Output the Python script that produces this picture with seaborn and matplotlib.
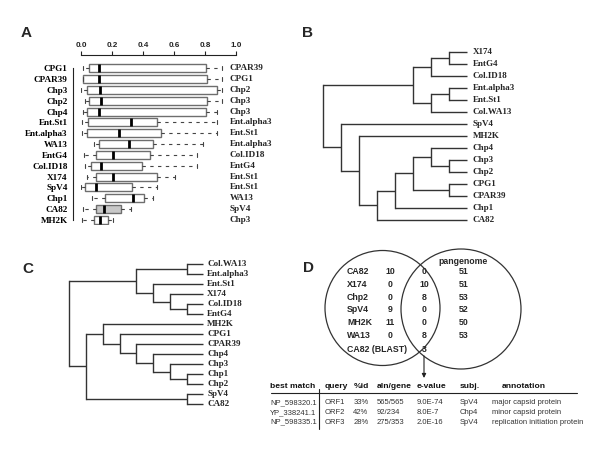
import numpy as np
import pandas as pd
import matplotlib
matplotlib.use("Agg")
import matplotlib.pyplot as plt
from matplotlib.patches import Circle
import seaborn as sns

# ---------------- data ----------------
# Panel A : box summaries (min, q1, median, q3, max) per genome
a_left_labels = ['CPG1', 'CPAR39', 'Chp3', 'Chp2', 'Chp4', 'Ent.St1', 'Ent.alpha3', 'WA13',
                 'EntG4', 'Col.ID18', 'X174', 'SpV4', 'Chp1', 'CA82', 'MH2K']
a_right_labels = ['CPAR39', 'CPG1', 'Chp2', 'Chp3', 'Chp3', 'Ent.alpha3', 'Ent.St1', 'Ent.alpha3',
                  'Col.ID18', 'EntG4', 'Ent.St1', 'Ent.St1', 'WA13', 'SpV4', 'Chp3']
a_min = [0.010, 0.010, 0.000, 0.024, 0.010, 0.004, 0.004, 0.084, 0.022, 0.026, 0.037, 0.000, 0.069, 0.015, 0.009]
a_q1 = [0.054, 0.015, 0.037, 0.050, 0.040, 0.043, 0.037, 0.114, 0.099, 0.067, 0.095, 0.024, 0.157, 0.095, 0.084]
a_med = [0.114, 0.117, 0.123, 0.127, 0.117, 0.323, 0.243, 0.312, 0.204, 0.127, 0.209, 0.095, 0.333, 0.148, 0.123]
a_q3 = [0.806, 0.815, 0.877, 0.815, 0.806, 0.492, 0.518, 0.462, 0.445, 0.396, 0.490, 0.327, 0.406, 0.256, 0.176]
a_max = [0.907, 0.907, 0.907, 0.907, 0.875, 0.875, 0.875, 0.785, 0.746, 0.746, 0.606, 0.492, 0.467, 0.320, 0.209]
a_highlight = 'CA82'
a_ticks = [0.0, 0.2, 0.4, 0.6, 0.8, 1.0]

# Panel B / C : tree topologies (nested tuples)
tree_b = (((('X174', 'EntG4'), 'Col.ID18'), (('Ent.alpha3', 'Ent.St1'), 'Col.WA13')),
          ('SpV4', ('MH2K', (((('Chp4', ('Chp3', 'Chp2')), ('CPG1', 'CPAR39')), 'Chp1'), 'CA82'))))
tree_c = ((('Col.WA13', 'Ent.alpha3'), ('Ent.St1', ('X174', ('Col.ID18', 'EntG4')))),
          (('MH2K', ('CPG1', ('CPAR39', ('Chp4', ('Chp3', ('Chp1', 'Chp2')))))), ('SpV4', 'CA82')))

# Panel D : Venn counts
d_names = ['CA82', 'X174', 'Chp2', 'SpV4', 'MH2K', 'WA13']
d_unique = [10, 0, 0, 9, 11, 0]
d_shared = [0, 10, 8, 0, 0, 8]
d_pangenome = [51, 51, 53, 52, 50, 53]
d_blast_label = 'CA82 (BLAST)'
d_blast_count = 3

# Panel D : BLAST table
t_header = ['best match', 'query', '%id', 'aln/gene', 'e-value', 'subj.', 'annotation']
t_match = ['NP_598320.1', 'YP_338241.1', 'NP_598335.1']
t_query = ['ORF1', 'ORF2', 'ORF3']
t_id = ['33%', '42%', '28%']
t_aln = ['565/565', '92/234', '275/353']
t_eval = ['9.0E-74', '8.0E-7', '2.0E-16']
t_subj = ['SpV4', 'Chp4', 'SpV4']
t_annot = ['major capsid protein', 'minor capsid protein', 'replication initiation protein']

# ---------------- style ----------------
sns.set_style("white")
plt.rcParams['font.family'] = ['Liberation Sans', 'DejaVu Sans']
SERIF = ['Liberation Serif', 'DejaVu Serif']
W, H = 600, 450
fig = plt.figure(figsize=(6, 4.5), dpi=100)
fig.patch.set_facecolor('white')


def px_axes(l, t, r, b):
    return fig.add_axes([l / W, 1 - b / H, (r - l) / W, (b - t) / H])


# ---------------- Panel A ----------------
rows = []
for g, mn, q1, md, q3, mx in zip(a_left_labels, a_min, a_q1, a_med, a_q3, a_max):
    for v in (mn, q1, md, q3, mx):
        rows.append({'genome': g, 'value': v})
df_a = pd.DataFrame(rows)
palette = {g: ('#c8c8c8' if g == a_highlight else 'white') for g in a_left_labels}

axA = px_axes(81, 55, 236, 225.4)
sns.boxplot(data=df_a, x='value', y='genome', hue='genome', order=a_left_labels,
            hue_order=a_left_labels, palette=palette, saturation=1, legend=False,
            whis=np.inf, width=0.74, linewidth=1.0, linecolor='#6e6e6e', ax=axA,
            medianprops={'color': 'black', 'linewidth': 2.0},
            whiskerprops={'color': '#444444', 'linewidth': 0.8, 'linestyle': (0, (3, 4))},
            capprops={'color': '#444444', 'linewidth': 0.8})
axA.set_xlim(0, 1)
axA.set_ylim(14.5, -1.227)
axA.set_xlabel('')
axA.set_ylabel('')
axA.xaxis.tick_top()
axA.set_xticks(a_ticks)
axA.set_xticklabels([f'{t:.1f}' for t in a_ticks], fontsize=5.8, fontweight='bold')
axA.tick_params(axis='x', direction='out', length=3, width=0.8, pad=1.5, colors='#222222')
axA.tick_params(axis='y', direction='out', length=2.5, width=0.8, pad=1.5, color='#222222',
                labelsize=6.6, labelfontfamily='Liberation Serif', labelcolor='black')
for s in ('right', 'bottom'):
    axA.spines[s].set_visible(False)
axA.spines['top'].set_bounds(0, 1)
axA.spines['left'].set_position(('outward', 5.5))
axA.spines['left'].set_bounds(0, len(a_left_labels) - 1)
for s in ('top', 'left'):
    axA.spines[s].set_color('#222222')
    axA.spines[s].set_linewidth(0.8)
axA.patch.set_alpha(0)
for i, lab in enumerate(a_right_labels):
    axA.text(0.958, i, lab, ha='left', va='center', fontsize=6.6, fontweight='bold',
             family=SERIF, clip_on=False)


# ---------------- trees ----------------
def draw_tree(ax, tree, color='#333333', lw=1.0, label_x=-0.3, fs=6.5):
    leaves = []

    def collect(n):
        if isinstance(n, tuple):
            for c in n:
                collect(c)
        else:
            leaves.append(n)
    collect(tree)
    pos = {name: i for i, name in enumerate(leaves)}

    def rec(n):
        if not isinstance(n, tuple):
            return pos[n], 0
        res = [rec(c) for c in n]
        h = max(r[1] for r in res) + 1
        ys = [r[0] for r in res]
        ax.plot([h, h], [min(ys), max(ys)], color=color, lw=lw, solid_capstyle='projecting')
        for y, ch in res:
            ax.plot([ch, h], [y, y], color=color, lw=lw, solid_capstyle='butt')
        return float(np.mean(ys)), h
    rec(tree)
    for name, i in pos.items():
        ax.text(label_x, i, name, ha='left', va='center', fontsize=fs, fontweight='bold',
                family=SERIF, clip_on=False)
    ax.set_xlim(8.3, -0.3)
    ax.set_ylim(len(leaves) - 0.5, -0.5)
    ax.axis('off')


axB = px_axes(317.3, 45.7, 472.1, 226.0)
draw_tree(axB, tree_b, label_x=-0.33)

axC = px_axes(64.3, 259.0, 208.3, 409.0)
draw_tree(axC, tree_c, label_x=-0.24)

# ---------------- overlay: panel D and letters ----------------
axO = fig.add_axes([0, 0, 1, 1])
axO.set_xlim(0, W)
axO.set_ylim(H, 0)
axO.axis('off')

for letter, (x, y) in zip('ABCD', [(21, 33), (302, 33), (22, 269), (303, 268)]):
    axO.text(x, y, letter, fontsize=11, fontweight='bold', ha='left', va='center')

axO.add_patch(Circle((382.5, 308), 57.5, fill=False, ec='#333333', lw=0.9))
axO.add_patch(Circle((461, 309), 60, fill=False, ec='#333333', lw=0.9))

vfs = 6.3
axO.text(463.3, 261, 'pangenome', ha='center', va='center', fontsize=vfs, fontweight='bold')
row_y = [271.7, 284.3, 297.3, 310.0, 322.7, 335.7]
for y, n, u, s, p in zip(row_y, d_names, d_unique, d_shared, d_pangenome):
    axO.text(347, y, n, ha='left', va='center', fontsize=vfs, fontweight='bold')
    axO.text(390, y, str(u), ha='center', va='center', fontsize=vfs, fontweight='bold')
    axO.text(424, y, str(s), ha='center', va='center', fontsize=vfs, fontweight='bold')
    axO.text(463.3, y, str(p), ha='center', va='center', fontsize=vfs, fontweight='bold')
axO.text(347, 350, d_blast_label, ha='left', va='center', fontsize=vfs, fontweight='bold')
axO.text(424, 350, str(d_blast_count), ha='center', va='center', fontsize=vfs, fontweight='bold')
axO.annotate('', xy=(424, 378), xytext=(424, 356),
             arrowprops=dict(arrowstyle='-|>', color='#222222', lw=0.8, mutation_scale=6,
                             shrinkA=0, shrinkB=0))

col_x = [270, 325, 353.3, 376.7, 416.7, 459.3, 501.7]
for x, h in zip(col_x, t_header):
    axO.text(x, 387, h, ha='left', va='center', fontsize=6.1, fontweight='bold', color='#111111')
axO.plot([271, 577], [393, 393], color='#222222', lw=0.8)
axO.plot([319.3, 319.3], [389, 429], color='#222222', lw=0.8)
body_x = [270, 325, 353.3, 376.7, 416.7, 459.3, 491.7]
body_y = [402.3, 412.3, 422.0]
for j, y in enumerate(body_y):
    vals = [t_match[j], t_query[j], t_id[j], t_aln[j], t_eval[j], t_subj[j], t_annot[j]]
    for x, v in zip(body_x, vals):
        axO.text(x, y, v, ha='left', va='center', fontsize=5.5, color='#333333')

fig.canvas.draw()
for lab in axA.get_yticklabels():
    lab.set_fontweight('bold')
    lab.set_fontsize(6.6)
    lab.set_family(SERIF)
fig.savefig('out.png', dpi=100, facecolor='white')
